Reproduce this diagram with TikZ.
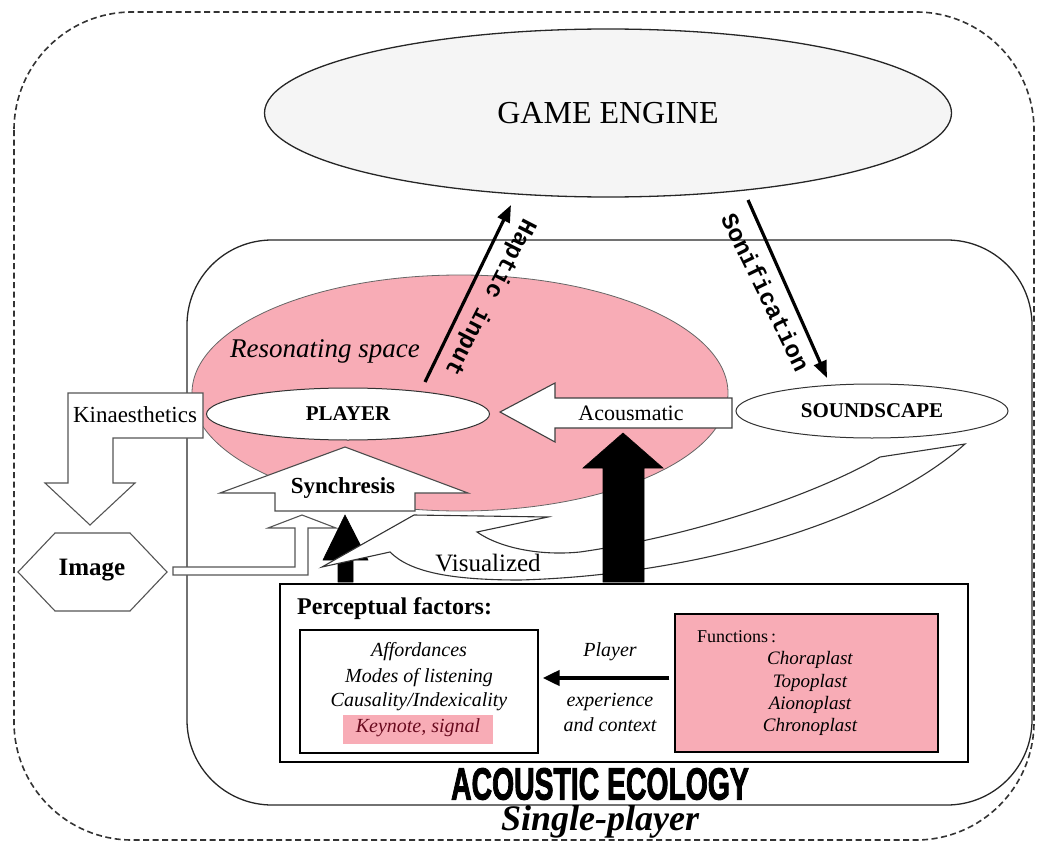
\documentclass[tikz,border=0pt]{standalone}
\usepackage{fontspec}
\setmainfont{Liberation Serif}
\newfontfamily\monofont{Liberation Mono}
\newfontfamily\heavyfont[FakeBold=2.5]{Liberation Sans}
\usetikzlibrary{shapes.geometric,arrows.meta}
\definecolor{rose}{RGB}{248,172,182}
\definecolor{enginegray}{RGB}{245,245,245}
\definecolor{edgegray}{RGB}{85,85,85}
\definecolor{keynotered}{RGB}{105,10,30}
\newcommand\sizept[1]{\fontsize{#1}{#1}\selectfont}

\begin{document}
\begin{tikzpicture}[x=1pt,y=-1pt,
  txt/.style={inner sep=0pt},
  oval/.style={ellipse,draw=black!80,fill=white,line width=1pt,inner sep=0pt},
  blockarrow/.style={draw=edgegray,fill=white,line width=1.1pt,line join=miter},
  solidarrow/.style={draw=black,fill=black,line width=0.6pt,line join=miter},
  thinarrow/.style={line width=3.2pt,-{Triangle[length=17pt,width=13pt]}},
  slanted/.style={txt,font=\monofont\bfseries\sizept{24}},
  listitem/.style={txt,font=\itshape\sizept{20}}]

\useasboundingbox (0,0) rectangle (1037,843);

% outer dashed frame
\draw[black!80,line width=1.6pt,dash pattern=on 6pt off 3.5pt,rounded corners=118pt]
  (14,12) rectangle (1034,840);

% game engine
\node[ellipse,draw=black!85,fill=enginegray,line width=1.3pt,inner sep=0pt,
  minimum width=687pt,minimum height=168pt,font=\sizept{32}] (engine) at (608,113) {GAME ENGINE};

% acoustic ecology frame
\node[draw=black!85,line width=1.3pt,rounded corners=85pt,inner sep=0pt,
  minimum width=845pt,minimum height=565pt] (ecology) at (609.5,522.5) {};

% resonating space
\node[ellipse,draw=black!60,fill=rose,line width=0.8pt,inner sep=0pt,
  minimum width=536pt,minimum height=236pt] (space) at (460,393) {};
\node[txt,font=\itshape\sizept{27}] (spacelabel) at (325,351) {Resonating space};

% haptic input and sonification
\coordinate (hapticfoot) at (425,382);
\coordinate (haptichead) at (511,205);
\draw[thinarrow] (hapticfoot) -- (haptichead);
\node[slanted,rotate=-117.2] (haptic) at (490,297) {Haptic input};

\coordinate (sonifoot) at (748,200);
\coordinate (sonihead) at (827,378);
\draw[thinarrow] (sonifoot) -- (sonihead);
\node[slanted,rotate=-64] (sonif) at (766,292) {Sonification};

% player and soundscape
\node[oval,minimum width=283pt,minimum height=52pt,font=\bfseries\sizept{21}] (player) at (348,414) {PLAYER};
\node[oval,minimum width=272pt,minimum height=54pt,font=\bfseries\sizept{21}] (soundscape) at (872,411) {SOUNDSCAPE};

% acousmatic
\draw[blockarrow,draw=black!75] (500,412) -- (555,383) -- (555,398) -- (732,398) -- (732,428)
  -- (555,428) -- (555,442) -- cycle;
\node[txt,font=\sizept{22}] (acousmatic) at (631,413) {Acousmatic};

% kinaesthetics
\draw[blockarrow] (68,393) -- (203,393) -- (203,438) -- (113,438) -- (113,483) -- (135,483)
  -- (90,525) -- (45,483) -- (68,483) -- cycle;
\node[txt,font=\sizept{23}] (kinaes) at (135,415) {Kinaesthetics};

% image
\draw[blockarrow] (18,572) -- (55,533) -- (130,533) -- (167,572) -- (130,611) -- (55,611) -- cycle;
\node[txt,font=\bfseries\sizept{25}] (image) at (92,570) {Image};
\draw[blockarrow] (173,567) -- (295,567) -- (295,528) -- (268,528) -- (302,515) -- (336,528)
  -- (308,528) -- (308,575) -- (173,575) -- cycle;

% synchresis
\draw[blockarrow,draw=black!70] (345,447) -- (468,493) -- (415,493) -- (415,511) -- (275,511)
  -- (275,493) -- (220,493) -- cycle;
\node[txt,font=\bfseries\sizept{23}] (synch) at (343,488) {Synchresis};

% small black arrow
\draw[solidarrow] (345,515) -- (368,560) -- (353,560) -- (353,582) -- (338,582) -- (338,560)
  -- (323,560) -- cycle;

% visualized
\draw[blockarrow,draw=black!80] (965,444) -- (880,457)
  .. controls (820,492) and (700,535) .. (580,552)
  .. controls (540,556) and (500,548) .. (477,532)
  -- (548,517) -- (414,515) -- (322,567) -- (390,552)
  .. controls (410,572) and (450,580) .. (520,580)
  .. controls (700,575) and (880,520) .. (965,444) -- cycle;
\node[txt,font=\sizept{25}] (visual) at (488,563) {Visualized};

% large black arrow
\draw[solidarrow] (623,433) -- (663,468) -- (644,468) -- (644,582) -- (603,582) -- (603,468)
  -- (583,468) -- cycle;

% perceptual factors
\node[draw,line width=1.3pt,fill=white,inner sep=0pt,minimum width=688pt,minimum height=178pt] (percept) at (624,673) {};
\node[txt,anchor=west,font=\bfseries\sizept{24}] (percepttitle) at (297,609) {Perceptual factors:};

\node[draw,line width=1.2pt,inner sep=0pt,minimum width=238pt,minimum height=123pt] (factors) at (419,691.5) {};
\node[listitem] (aff) at (419,652) {Affordances};
\node[listitem] (modes) at (419,678) {Modes of listening};
\node[listitem] (caus) at (419,702) {Causality/Indexicality};
\node[fill=rose,inner sep=0pt,minimum width=150pt,minimum height=29pt] (keybg) at (418,729.5) {};
\node[listitem,text=keynotered] (keynote) at (418,728) {Keynote, signal};

\node[draw,line width=1.2pt,fill=rose,inner sep=0pt,minimum width=263pt,minimum height=138pt] (fnbox) at (806.5,683) {};
\node[txt,anchor=west,font=\sizept{18}] (fntitle) at (697,637) {Functions\,:};
\node[listitem,font=\itshape\sizept{19}] (chora) at (810,660) {Choraplast};
\node[listitem,font=\itshape\sizept{19}] (topo) at (810,683) {Topoplast};
\node[listitem,font=\itshape\sizept{19}] (aiono) at (810,705) {Aionoplast};
\node[listitem,font=\itshape\sizept{19}] (chrono) at (810,727) {Chronoplast};

\coordinate (arrowrow) at (0,678);
\draw[line width=4pt,-{Triangle[length=17pt,width=15pt]},shorten <=5pt,shorten >=4pt]
  (fnbox.west |- arrowrow) -- (factors.east |- arrowrow);
\node[listitem] (plabel) at (610,652) {Player};
\node[listitem] (exper) at (610,702) {experience};
\node[listitem] (context) at (610,725) {and context};

% titles
\node[txt] (ecotitle) at (600,784) {\scalebox{0.63}[1]{\heavyfont\bfseries\sizept{45}ACOUSTIC ECOLOGY}};
\node[txt,font=\bfseries\itshape\sizept{36}] (single) at (600,822) {Single-player};
\end{tikzpicture}
\end{document}
